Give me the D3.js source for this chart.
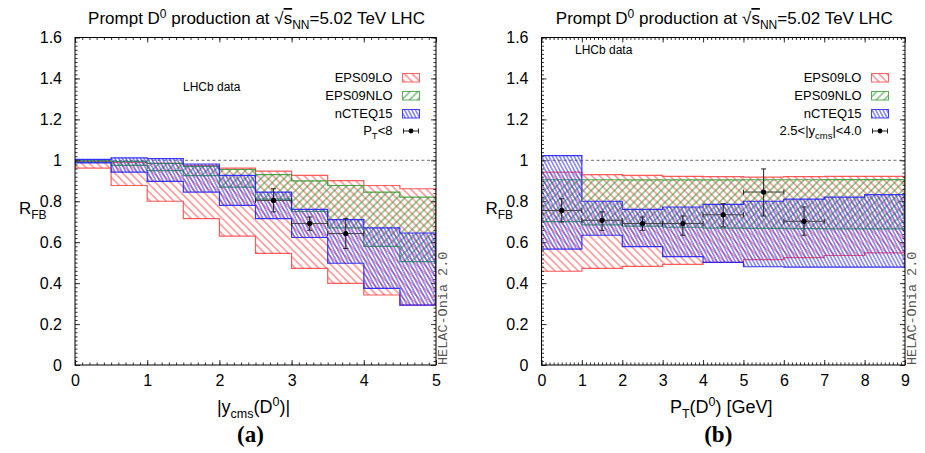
<!DOCTYPE html>
<html>
<head>
<meta charset="utf-8">
<script src="https://cdn.jsdelivr.net/npm/d3@7"></script>
<style>
  body { margin: 0; background: #fff; }
  svg { display: block; font-family: "Liberation Sans", Arial, Helvetica, sans-serif; }
</style>
</head>
<body>
<svg id="fig" width="925" height="453"></svg>
<script>
// ---------- Panel (a): R_FB versus |y_cms(D0)| ----------
const rapEdges = [0, 0.5, 1, 1.5, 2, 2.5, 3, 3.5, 4, 4.5, 5];
const rapEps09loHi  = [0.995, 0.990, 0.985, 0.975, 0.962, 0.947, 0.926, 0.901, 0.877, 0.861];
const rapEps09loLo  = [0.962, 0.877, 0.800, 0.715, 0.630, 0.545, 0.472, 0.399, 0.342, 0.293];
const rapEps09nloHi = [0.998, 0.995, 0.985, 0.970, 0.955, 0.930, 0.900, 0.877, 0.845, 0.820];
const rapEps09nloLo = [0.990, 0.975, 0.950, 0.925, 0.869, 0.810, 0.750, 0.670, 0.580, 0.505];
const rapNcteqHi    = [1.005, 1.012, 1.008, 0.982, 0.926, 0.845, 0.760, 0.710, 0.670, 0.645];
const rapNcteqLo    = [0.987, 0.942, 0.897, 0.845, 0.780, 0.715, 0.623, 0.497, 0.374, 0.293];
// LHCb measurement, pT < 8 GeV
const rapDataX     = [2.75, 3.25, 3.75];
const rapDataXErr  = [0.25, 0.25, 0.25];
const rapDataY     = [0.804, 0.691, 0.642];
const rapDataYLow  = [0.748, 0.658, 0.569];
const rapDataYHigh = [0.861, 0.723, 0.715];
const rapTicksX = [0, 1, 2, 3, 4, 5];

// ---------- Panel (b): R_FB versus pT(D0) ----------
const ptEdges = [0, 1, 2, 3, 4, 5, 6, 7, 8, 9];
const ptEps09loHi  = [0.942, 0.930, 0.926, 0.922, 0.920, 0.918, 0.920, 0.922, 0.922];
const ptEps09loLo  = [0.458, 0.472, 0.482, 0.492, 0.501, 0.515, 0.525, 0.535, 0.548];
const ptEps09nloHi = [0.905, 0.905, 0.904, 0.904, 0.904, 0.905, 0.905, 0.906, 0.906];
const ptEps09nloLo = [0.700, 0.685, 0.678, 0.673, 0.669, 0.667, 0.666, 0.665, 0.665];
const ptNcteqHi    = [1.023, 0.800, 0.760, 0.772, 0.785, 0.800, 0.810, 0.820, 0.832];
const ptNcteqLo    = [0.566, 0.634, 0.578, 0.529, 0.501, 0.480, 0.478, 0.478, 0.478];
// LHCb measurement, 2.5 < |y_cms| < 4.0
const ptDataX     = [0.5, 1.5, 2.5, 3.5, 4.5, 5.5, 6.5];
const ptDataXErr  = [0.5, 0.5, 0.5, 0.5, 0.5, 0.5, 0.5];
const ptDataY     = [0.755, 0.707, 0.691, 0.691, 0.734, 0.845, 0.702];
const ptDataYLow  = [0.699, 0.658, 0.658, 0.634, 0.675, 0.728, 0.634];
const ptDataYHigh = [0.812, 0.748, 0.723, 0.728, 0.788, 0.958, 0.772];
const ptTicksX = [0, 1, 2, 3, 4, 5, 6, 7, 8, 9];

// Shared vertical axis
const rfbTicks = [0, 0.2, 0.4, 0.6, 0.8, 1, 1.2, 1.4, 1.6];
const legendNames = ["EPS09LO", "EPS09NLO", "nCTEQ15"];

const SANS = "'Liberation Sans', Arial, Helvetica, sans-serif";
const SERIF = "'Liberation Serif', 'Times New Roman', serif";
const MONO = "'Liberation Mono', 'Courier New', monospace";

const svg = d3.select("#fig");
const defs = svg.append("defs");

// Hatch fills for the nPDF uncertainty bands
function hatch(id, color, angle, gap, width) {
  const p = defs.append("pattern")
    .attr("id", id)
    .attr("patternUnits", "userSpaceOnUse")
    .attr("width", gap).attr("height", gap)
    .attr("patternTransform", `rotate(${angle})`);
  p.append("line")
    .attr("x1", 0).attr("x2", gap)
    .attr("y1", gap / 2).attr("y2", gap / 2)
    .attr("stroke", color).attr("stroke-width", width);
}
hatch("hRed", "#ff5a5a", 45, 5.5, 1);
hatch("hGreen", "#3aa03a", -45, 5.5, 1);
hatch("hBlue", "#3030ff", 62, 3.2, 0.9);

const styles = [
  { pat: "hRed", color: "#ff4040" },
  { pat: "hGreen", color: "#2e9a2e" },
  { pat: "hBlue", color: "#1818ff" }
];

const TOP = 37.5, BOTTOM = 365;

function panel(cfg) {
  const g = svg.append("g");
  const x = d3.scaleLinear().domain(cfg.xDomain).range([cfg.left, cfg.right]);
  const y = d3.scaleLinear().domain([0, 1.6]).range([BOTTOM, TOP]);
  const midX = (cfg.left + cfg.right) / 2;

  const clipId = "clip" + cfg.tag;
  defs.append("clipPath").attr("id", clipId)
    .append("rect").attr("x", cfg.left).attr("y", TOP)
    .attr("width", cfg.right - cfg.left).attr("height", BOTTOM - TOP);
  const plot = g.append("g").attr("clip-path", `url(#${clipId})`);

  // reference line at R_FB = 1
  plot.append("line")
    .attr("x1", x(cfg.xDomain[0])).attr("x2", x(cfg.xDomain[1]))
    .attr("y1", y(1)).attr("y2", y(1))
    .attr("stroke", "#8c8c8c").attr("stroke-width", 1.2)
    .attr("stroke-dasharray", "3,2.5");

  // step bands
  const line = d3.line().x(d => x(d[0])).y(d => y(d[1]));
  cfg.bands.forEach((b, k) => {
    const pts = [];
    b.hi.forEach((v, i) => { pts.push([cfg.edges[i], v], [cfg.edges[i + 1], v]); });
    for (let i = b.lo.length - 1; i >= 0; i--) {
      pts.push([cfg.edges[i + 1], b.lo[i]], [cfg.edges[i], b.lo[i]]);
    }
    plot.append("path")
      .attr("d", line(pts) + "Z")
      .attr("fill", `url(#${styles[k].pat})`)
      .attr("stroke", styles[k].color)
      .attr("stroke-width", 1.2)
      .attr("stroke-opacity", 0.85);
  });

  // data points with error bars
  const dg = plot.append("g").attr("stroke", "#222").attr("stroke-width", 1);
  cfg.data.x.forEach((xv, i) => {
    const xe = cfg.data.xe[i];
    const cx = x(xv), cy = y(cfg.data.y[i]);
    const xl = x(xv - xe), xr = x(xv + xe);
    const yl = y(cfg.data.lo[i]), yh = y(cfg.data.hi[i]);
    dg.append("line").attr("x1", xl).attr("x2", xr).attr("y1", cy).attr("y2", cy).attr("stroke", "#444");
    dg.append("line").attr("x1", xl).attr("x2", xl).attr("y1", cy - 2.5).attr("y2", cy + 2.5);
    dg.append("line").attr("x1", xr).attr("x2", xr).attr("y1", cy - 2.5).attr("y2", cy + 2.5);
    dg.append("line").attr("x1", cx).attr("x2", cx).attr("y1", yl).attr("y2", yh);
    dg.append("line").attr("x1", cx - 2.5).attr("x2", cx + 2.5).attr("y1", yl).attr("y2", yl);
    dg.append("line").attr("x1", cx - 2.5).attr("x2", cx + 2.5).attr("y1", yh).attr("y2", yh);
    dg.append("circle").attr("cx", cx).attr("cy", cy).attr("r", 2.6).attr("fill", "#000").attr("stroke", "none");
  });

  // axes: major and minor ticks pointing inward on all four sides
  const fmt = d3.format("~g");
  const yMinor = d3.range(0, 1.6001, 0.02);
  const xMinor = d3.range(cfg.xDomain[0], cfg.xDomain[1] + 1e-6, cfg.xMinorStep);
  function put(gen, tr) {
    const a = g.append("g").attr("transform", tr).call(gen);
    a.select(".domain").remove();
    a.selectAll("line").attr("stroke", "#333");
    a.attr("font-size", 16).attr("font-family", SANS);
    a.selectAll("text").attr("fill", "#000");
    return a;
  }
  put(d3.axisLeft(y).tickValues(yMinor).tickSize(-2.5).tickFormat(""), `translate(${cfg.left},0)`);
  put(d3.axisRight(y).tickValues(yMinor).tickSize(-2.5).tickFormat(""), `translate(${cfg.right},0)`);
  put(d3.axisBottom(x).tickValues(xMinor).tickSize(-2.5).tickFormat(""), `translate(0,${BOTTOM})`);
  put(d3.axisTop(x).tickValues(xMinor).tickSize(-2.5).tickFormat(""), `translate(0,${TOP})`);
  put(d3.axisLeft(y).tickValues(rfbTicks).tickSize(-5).tickPadding(13).tickFormat(fmt), `translate(${cfg.left},0)`);
  put(d3.axisRight(y).tickValues(rfbTicks).tickSize(-5).tickFormat(""), `translate(${cfg.right},0)`);
  put(d3.axisBottom(x).tickValues(cfg.xTicks).tickSize(-5).tickPadding(10).tickFormat(fmt), `translate(0,${BOTTOM})`);
  put(d3.axisTop(x).tickValues(cfg.xTicks).tickSize(-5).tickFormat(""), `translate(0,${TOP})`);

  g.append("rect")
    .attr("x", cfg.left).attr("y", TOP)
    .attr("width", cfg.right - cfg.left).attr("height", BOTTOM - TOP)
    .attr("fill", "none").attr("stroke", "#000").attr("stroke-width", 1);

  // title
  const t = g.append("text").attr("x", midX + 1).attr("y", 24)
    .attr("text-anchor", "middle").attr("font-size", 17);
  t.append("tspan").text("Prompt D");
  t.append("tspan").attr("dy", -6.5).attr("font-size", 12).text("0");
  t.append("tspan").attr("dy", 6.5).text(" production at √");
  t.append("tspan").attr("text-decoration", "overline").text("s");
  t.append("tspan").attr("dy", 4.5).attr("font-size", 12).text("NN");
  t.append("tspan").attr("dy", -4.5).text("=5.02 TeV LHC");

  // vertical axis title
  const r = g.append("text").attr("x", cfg.left - 56).attr("y", 214).attr("font-size", 17);
  r.append("tspan").text("R");
  r.append("tspan").attr("dy", 5).attr("font-size", 12).text("FB");

  // horizontal axis title
  const xl = g.append("text").attr("x", midX - 2).attr("y", 413)
    .attr("text-anchor", "middle").attr("font-size", 18);
  cfg.xLabel(xl);

  // panel tag
  g.append("text").attr("x", midX - 5).attr("y", 442)
    .attr("text-anchor", "middle")
    .style("font-family", SERIF)
    .attr("font-weight", "bold").attr("font-size", 23)
    .text(cfg.tagText);

  // experiment note
  g.append("text").attr("x", cfg.lhcb[0]).attr("y", cfg.lhcb[1])
    .attr("font-size", 12).text("LHCb data");

  // generator stamp
  g.append("text")
    .attr("transform", `translate(${cfg.right + 11},${BOTTOM}) rotate(-90)`)
    .style("font-family", MONO)
    .attr("font-size", 13.5).attr("fill", "#555")
    .text("HELAC-Onia 2.0");

  // legend
  const swR = cfg.right - 16.5, swW = 17, swL = swR - swW, txR = swL - 10;
  const rows = [82, 100, 118, 135];
  legendNames.forEach((name, k) => {
    g.append("text").attr("x", txR).attr("y", rows[k])
      .attr("text-anchor", "end").attr("font-size", 13).text(name);
    g.append("rect").attr("x", swL).attr("y", rows[k] - 8.5)
      .attr("width", swW).attr("height", 8.5)
      .attr("fill", `url(#${styles[k].pat})`)
      .attr("stroke", styles[k].color).attr("stroke-width", 1).attr("stroke-opacity", 0.8);
  });
  const lt = g.append("text").attr("x", txR).attr("y", rows[3])
    .attr("text-anchor", "end").attr("font-size", 13);
  cfg.dataLabel(lt);
  const ly = rows[3] - 4, lg = g.append("g").attr("stroke", "#222");
  lg.append("line").attr("x1", swL + 1).attr("x2", swR - 1).attr("y1", ly).attr("y2", ly);
  lg.append("line").attr("x1", swL + 1).attr("x2", swL + 1).attr("y1", ly - 2.5).attr("y2", ly + 2.5);
  lg.append("line").attr("x1", swR - 1).attr("x2", swR - 1).attr("y1", ly - 2.5).attr("y2", ly + 2.5);
  lg.append("circle").attr("cx", (swL + swR) / 2).attr("cy", ly).attr("r", 2.4).attr("fill", "#000").attr("stroke", "none");
}

panel({
  tag: "a", tagText: "(a)",
  left: 75, right: 436,
  xDomain: [0, 5], xTicks: rapTicksX, xMinorStep: 0.1,
  edges: rapEdges,
  bands: [
    { hi: rapEps09loHi, lo: rapEps09loLo },
    { hi: rapEps09nloHi, lo: rapEps09nloLo },
    { hi: rapNcteqHi, lo: rapNcteqLo }
  ],
  data: { x: rapDataX, xe: rapDataXErr, y: rapDataY, lo: rapDataYLow, hi: rapDataYHigh },
  lhcb: [183, 91],
  xLabel: t => {
    t.append("tspan").text("|y");
    t.append("tspan").attr("dy", 4.5).attr("font-size", 12.5).text("cms");
    t.append("tspan").attr("dy", -4.5).text("(D");
    t.append("tspan").attr("dy", -7).attr("font-size", 12.5).text("0");
    t.append("tspan").attr("dy", 7).text(")|");
  },
  dataLabel: t => {
    t.append("tspan").text("P");
    t.append("tspan").attr("dy", 4).attr("font-size", 9.5).text("T");
    t.append("tspan").attr("dy", -4).text("<8");
  }
});

panel({
  tag: "b", tagText: "(b)",
  left: 541.5, right: 905,
  xDomain: [0, 9], xTicks: ptTicksX, xMinorStep: 0.1,
  edges: ptEdges,
  bands: [
    { hi: ptEps09loHi, lo: ptEps09loLo },
    { hi: ptEps09nloHi, lo: ptEps09nloLo },
    { hi: ptNcteqHi, lo: ptNcteqLo }
  ],
  data: { x: ptDataX, xe: ptDataXErr, y: ptDataY, lo: ptDataYLow, hi: ptDataYHigh },
  lhcb: [575, 54],
  xLabel: t => {
    t.append("tspan").text("P");
    t.append("tspan").attr("dy", 4.5).attr("font-size", 12.5).text("T");
    t.append("tspan").attr("dy", -4.5).text("(D");
    t.append("tspan").attr("dy", -7).attr("font-size", 12.5).text("0");
    t.append("tspan").attr("dy", 7).text(") [GeV]");
  },
  dataLabel: t => {
    t.append("tspan").text("2.5<|y");
    t.append("tspan").attr("dy", 4).attr("font-size", 9.5).text("cms");
    t.append("tspan").attr("dy", -4).text("|<4.0");
  }
});
</script>
</body>
</html>
